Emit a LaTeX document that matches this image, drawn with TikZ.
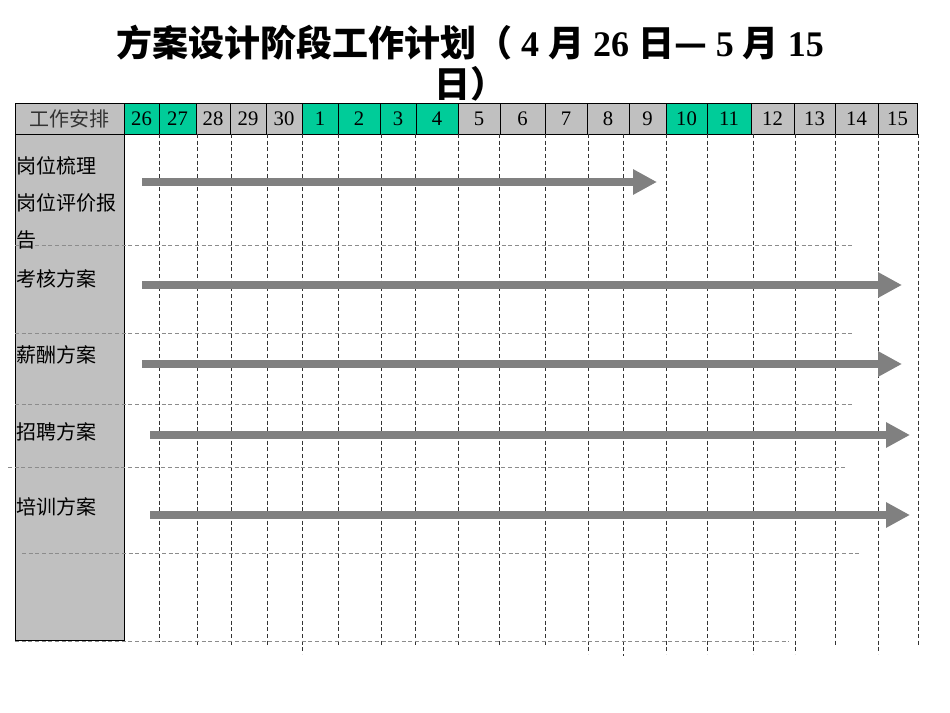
\documentclass[tikz,border=0pt]{standalone}
\usepackage{fontspec}
\setmainfont{Liberation Serif}
\newfontfamily\cjk{Noto Sans CJK SC}
\usetikzlibrary{arrows.meta}

\definecolor{cellgray}{HTML}{C0C0C0}
\definecolor{cellgreen}{HTML}{00CC99}
\definecolor{bargray}{HTML}{808080}

\begin{document}
\begin{tikzpicture}[
      x=0.75pt, y=-0.75pt,
      cell/.style={draw=black, line width=0.6pt, minimum height=23.25pt, inner sep=0pt, font=\fontsize{15.5}{15.5}\selectfont},
      vline/.style={draw=black!80, line width=0.5pt, dash pattern=on 3pt off 2pt},
      hline/.style={draw=black!45, line width=0.5pt, dash pattern=on 3pt off 2pt},
      bar/.style={draw=bargray, line width=6pt, -{Triangle[length=18pt, width=18pt]}},
      task/.style={anchor=west, inner sep=0pt, font=\cjk\fontsize{15}{15}\selectfont}
    ]
    \useasboundingbox (0,0) rectangle (950,713);
    % Titulo
    \node[font=\bfseries\fontsize{27}{31}\selectfont, align=center] (title) at (470,63)
      {{\cjk 方案设计阶段工作计划（} 4 {\cjk 月} 26 {\cjk 日—} 5 {\cjk 月} 15\\{\cjk 日）}};
    % Coluna das tarefas
    \draw[fill=cellgray, line width=0.6pt] (15,134) rectangle (124,640);
    \node[cell, fill=cellgray, minimum width=81.75pt, text=black!80, font=\cjk\fontsize{15}{15}\selectfont] (head) at (69.5,118.5) {工作安排};
    % Dias
    \foreach \t/\l/\r/\c [count=\i] in {26/124/159/cellgreen, 27/159/196/cellgreen, 28/196/230/cellgray,
        29/230/266/cellgray, 30/266/302/cellgray, 1/302/338/cellgreen, 2/338/380/cellgreen,
        3/380/416/cellgreen, 4/416/458/cellgreen, 5/458/500/cellgray, 6/500/545/cellgray,
        7/545/587/cellgray, 8/587/629/cellgray, 9/629/666/cellgray, 10/666/707/cellgreen,
        11/707/751/cellgreen, 12/751/794/cellgray, 13/794/835/cellgray, 14/835/878/cellgray,
        15/878/917/cellgray}
      \node[cell, fill=\c, minimum width={(\r-\l)*0.75pt}] (d\i) at ({(\l+\r)/2},118.5) {\t};
    % Grade
    \foreach \x/\e in {159/641, 197/646, 231/646, 267/646, 302/654, 338/646, 381/646, 415/646,
        458/646, 499/646, 545/647, 588/654, 623/656, 666/654, 707/654, 753/654, 795/654,
        835/647, 878/654, 918/647}
      \draw[vline] (\x,134) -- (\x,\e);
    \foreach \a/\b/\y in {15/854/245, 15/854/333, 15/854/404, 8/845/467, 22/860/553, 15/789/641}
      \draw[hline] (\a,\y) -- (\b,\y);
    % Tarefas
    \node[task, anchor=north west, align=left, font=\cjk\fontsize{15}{28}\selectfont] (t1) at (16,156)
      {岗位梳理\\岗位评价报\\告};
    \node[task] (t2) at (16,279) {考核方案};
    \node[task] (t3) at (16,355) {薪酬方案};
    \node[task] (t4) at (16,432) {招聘方案};
    \node[task] (t5) at (16,507) {培训方案};
    % Barras
    \foreach \n/\a/\b/\y in {1/142/657/182, 2/142/902/285, 3/142/902/364, 4/150/910/435, 5/150/910/515} {
      \coordinate (s\n) at (\a,\y);
      \coordinate (e\n) at (\b,\y);
      \draw[bar] (s\n) -- (e\n);
    }
  \end{tikzpicture}
\end{document}
